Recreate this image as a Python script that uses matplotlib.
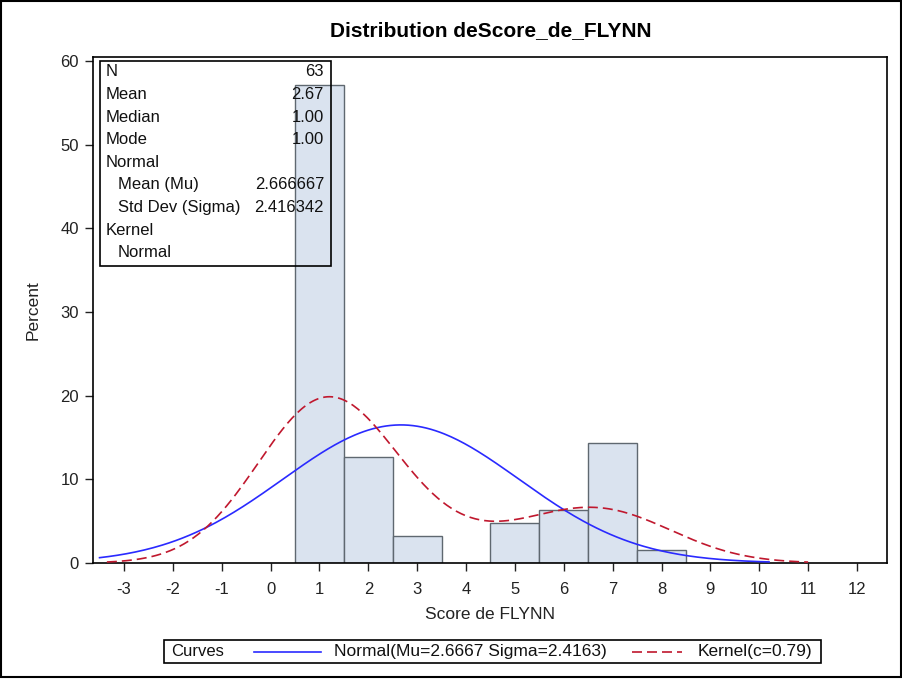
import numpy as np
import matplotlib
matplotlib.use("Agg")
import matplotlib.pyplot as plt
from matplotlib.patches import Rectangle
from matplotlib.lines import Line2D

plt.rcParams['font.family'] = ['Liberation Sans', 'DejaVu Sans']
plt.rcParams['axes.unicode_minus'] = False

# données
scores = [1, 2, 3, 5, 6, 7, 8]
percents = [57.14, 12.70, 3.17, 4.76, 6.35, 14.29, 1.59]
n_obs = 63
mu = 2.666667
sigma = 2.416342
kernel_c = 0.79

stats_labels = ["N", "Mean", "Median", "Mode", "Normal", "Mean (Mu)",
                "Std Dev (Sigma)", "Kernel", "Normal"]
stats_indent = [0, 0, 0, 0, 0, 1, 1, 0, 1]
stats_values = ["63", "2.67", "1.00", "1.00", "", "2.666667", "2.416342", "", ""]

x_ticks = list(range(-3, 13))
y_ticks = [0, 10, 20, 30, 40, 50, 60]

W, H = 903, 680
fig = plt.figure(figsize=(W / 100, H / 100), dpi=100)

def fx(px):
    return px / W

def fy(py):
    return 1 - py / H

ax = fig.add_axes([fx(93), fy(563), fx(887) - fx(93), fy(57) - fy(563)])

ax.bar(scores, percents, width=1.0, color='#dae3ef', edgecolor='#5f6870',
       linewidth=1.0, zorder=2)

# courbe normale
xn = np.linspace(-3.5, 10.2, 300)
yn = 100 * np.exp(-0.5 * ((xn - mu) / sigma) ** 2) / (sigma * np.sqrt(2 * np.pi))
ax.plot(xn, yn, color='#2a2aff', lw=1.2, zorder=3)

# noyau (kernel) à partir des effectifs
counts = np.round(np.array(percents) * n_obs / 100).astype(int)
data = np.repeat(scores, counts)
q1, q3 = np.percentile(data, [25, 75])
h = kernel_c * (q3 - q1) * n_obs ** (-0.2)
xk = np.linspace(-3.35, 11.0, 300)
yk = np.zeros_like(xk)
for s, c in zip(scores, counts):
    yk += c * np.exp(-0.5 * ((xk - s) / h) ** 2)
yk = 100 * yk / (n_obs * h * np.sqrt(2 * np.pi))
ax.plot(xk, yk, color='#c0182e', lw=1.2, dashes=(6, 3), zorder=3)

ax.set_xlim(-3.634, 12.614)
ax.set_ylim(0, 60.5)
ax.set_xticks(x_ticks)
ax.set_yticks(y_ticks)
ax.tick_params(labelsize=12, length=6, width=1, colors='#222222')
ax.tick_params(axis='x', pad=8)
ax.tick_params(axis='y', pad=4)
for sp in ax.spines.values():
    sp.set_linewidth(1.2)
ax.set_xlabel("Score de FLYNN", fontsize=12.5, labelpad=7, color='#222222')
ax.set_ylabel("Percent", fontsize=12.5, labelpad=14, color='#222222')

# encadré des statistiques
ax.add_patch(Rectangle((fx(100), fy(266)), fx(331) - fx(100), fy(61) - fy(266),
                       transform=fig.transFigure, fill=False, edgecolor='black',
                       lw=1.2, zorder=5))
for i, (lab, val) in enumerate(zip(stats_labels, stats_values)):
    yy = fy(72 + i * 22.6)
    fig.text(fx(106 + 12 * stats_indent[i]), yy, lab, fontsize=12, va='center',
             ha='left', color='#111111')
    if val:
        fig.text(fx(324), yy, val, fontsize=12, va='center', ha='right',
                 color='#111111')

fig.text(fx(491), fy(31), "Distribution deScore_de_FLYNN", fontsize=15,
         fontweight='bold', ha='center', va='center')

# légende en bas
fig.patches.append(Rectangle((fx(164), fy(663)), fx(821) - fx(164), fy(640) - fy(663),
                             transform=fig.transFigure, fill=False,
                             edgecolor='black', lw=1.2))
ly = fy(651.5)
fig.text(fx(171), ly, "Curves", fontsize=12, va='center', color='#111111')
fig.lines.append(Line2D([fx(254), fx(321)], [ly, ly], transform=fig.transFigure,
                        color='#2a2aff', lw=1.2))
fig.text(fx(334), ly, "Normal(Mu=2.6667 Sigma=2.4163)", fontsize=12.5,
         va='center', color='#111111')
fig.lines.append(Line2D([fx(632), fx(682)], [ly, ly], transform=fig.transFigure,
                        color='#c0182e', lw=1.2, dashes=(6, 3)))
fig.text(fx(812), ly, "Kernel(c=0.79)", fontsize=12.5, va='center', ha='right',
         color='#111111')

# cadre extérieur
fig.patches.append(Rectangle((fx(1), fy(677)), fx(901) - fx(1), fy(1) - fy(677),
                             transform=fig.transFigure, fill=False,
                             edgecolor='black', lw=1.5))

fig.savefig("out.png", dpi=100)
